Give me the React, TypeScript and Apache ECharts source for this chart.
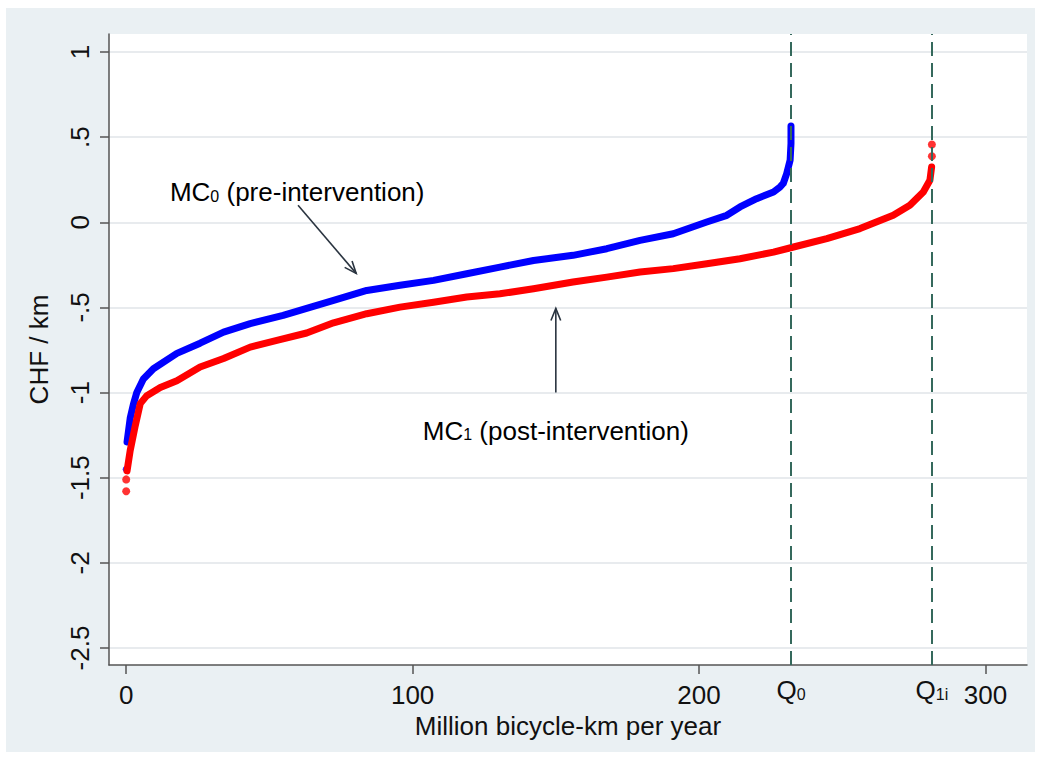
import React, { useEffect, useRef } from "react";
import * as echarts from "echarts";

const xTicks = [0, 100, 200, 300];
const yTicks = [-2.5, -2, -1.5, -1, -0.5, 0, 0.5, 1];

const mc0Points: number[][] = [
  [0.3, -1.29], [1.4, -1.15], [2.5, -1.07], [3.7, -1.0], [6, -0.92], [9.5, -0.86],
  [17.7, -0.77], [25.8, -0.71], [34, -0.645], [43.3, -0.595], [54.8, -0.547],
  [63, -0.506], [72.4, -0.459], [84, -0.4], [95.6, -0.37], [107.3, -0.341],
  [118.9, -0.302], [130.5, -0.263], [142.2, -0.224], [156, -0.194], [167.8, -0.155],
  [179.4, -0.106], [191, -0.067], [202.7, 0.002], [209.7, 0.041], [214.3, 0.09],
  [220.1, 0.139], [226, 0.178], [228.3, 0.208], [229.4, 0.228], [230.6, 0.286],
  [231.8, 0.365], [232.1, 0.463], [232.1, 0.565],
];
const mc0Isolated: number[][] = [[0, -1.45]];

const mc1Points: number[][] = [
  [0.3, -1.46], [1.4, -1.34], [3.1, -1.2], [4.9, -1.065], [7.2, -1.018], [11.9, -0.97],
  [17.7, -0.93], [25.8, -0.85], [34, -0.8], [43.3, -0.733], [52.6, -0.694],
  [63, -0.65], [72.4, -0.59], [84, -0.537], [95.6, -0.498], [107.3, -0.469],
  [118.9, -0.439], [130.5, -0.42], [142.2, -0.39], [156, -0.351], [167.8, -0.322],
  [179.4, -0.292], [191, -0.272], [202.7, -0.243], [214.3, -0.214], [226, -0.175],
  [233, -0.145], [244.6, -0.096], [256.2, -0.037], [267.8, 0.041], [273.6, 0.1],
  [278.3, 0.178], [280.6, 0.247], [281.2, 0.325],
];
const mc1Isolated: number[][] = [[0, -1.58], [0, -1.51], [281.3, 0.388], [281.3, 0.457]];

const q0 = 232.1;
const q1i = 281.3;

const xName = "Million bicycle-km per year";
const yName = "CHF / km";

const mc0Label = [59.7, 0.19];
const mc0ArrowFrom = [60, 0.1];
const mc0ArrowTo = [80.3, -0.3];
const mc1Label = [150, -1.21];
const mc1ArrowFrom = [150, -1.0];
const mc1ArrowTo = [150, -0.506];

const FONT = "'Liberation Sans', Arial, sans-serif";
const FS = 26;
const TXT = "#111111";
const AX = "#555555";

function fmtY(v: number): string {
  if (v === 0) return "0";
  return String(v).replace(/^(-?)0\./, "$1.");
}

const rich = {
  a: { fontSize: FS, fontFamily: FONT, color: TXT, lineHeight: 31, verticalAlign: "bottom" },
  s: { fontSize: 16, fontFamily: FONT, color: TXT, lineHeight: 31, verticalAlign: "bottom", padding: [0, 0, 1, 0] },
};

export default function App() {
  const ref = useRef<HTMLDivElement>(null);
  useEffect(() => {
    if (!ref.current) return;
    const chart = echarts.init(ref.current, null, { renderer: "svg" });
    const option: any = {
      animation: false,
      backgroundColor: "transparent",
      grid: { left: 109, right: 14, top: 34, bottom: 95, show: true, backgroundColor: "#ffffff", borderWidth: 0 },
      xAxis: {
        type: "value",
        min: -6,
        max: 314.5,
        name: xName,
        nameLocation: "middle",
        nameGap: 42,
        nameTextStyle: { fontSize: FS, fontFamily: FONT, color: TXT },
        axisLine: { show: true, onZero: false, lineStyle: { color: AX, width: 1.5 } },
        axisTick: { show: true, customValues: xTicks, length: 9, lineStyle: { color: AX, width: 1.5 } },
        axisLabel: { customValues: xTicks, margin: 17, fontSize: FS, fontFamily: FONT, color: TXT },
        splitLine: { show: false },
      },
      yAxis: {
        type: "value",
        min: -2.6,
        max: 1.106,
        name: yName,
        nameLocation: "middle",
        nameGap: 57,
        nameTextStyle: { fontSize: FS, fontFamily: FONT, color: TXT },
        axisLine: { show: true, onZero: false, lineStyle: { color: AX, width: 1.5 } },
        axisTick: { show: true, customValues: yTicks, length: 9, lineStyle: { color: AX, width: 1.5 } },
        axisLabel: { customValues: yTicks, rotate: 90, margin: 16, fontSize: FS, fontFamily: FONT, color: TXT, formatter: (v: number) => fmtY(v) },
        splitLine: { show: true, lineStyle: { color: "#e8ebee", width: 2 } },
      },
      series: [
        {
          type: "line",
          data: mc0Points,
          showSymbol: false,
          symbol: "none",
          lineStyle: { color: "#0000ff", width: 7, cap: "round", join: "round" },
          z: 3,
          markLine: {
            silent: true,
            symbol: ["none", "none"],
            lineStyle: { type: [14, 7], color: "#35695c", width: 2 },
            label: {
              show: true,
              position: "start",
              distance: 7,
              rich,
            },
            data: [
              { xAxis: q0, label: { formatter: "{a|Q}{s|0}" } },
              { xAxis: q1i, label: { formatter: "{a|Q}{s|1i}" } },
            ],
          },
        },
        {
          type: "scatter",
          data: mc0Isolated,
          symbol: "circle",
          symbolSize: 7,
          itemStyle: { color: "#0000ff" },
          z: 3,
        },
        {
          type: "line",
          data: mc1Points,
          showSymbol: false,
          symbol: "none",
          lineStyle: { color: "#ff0000", width: 7, cap: "round", join: "round" },
          z: 4,
        },
        {
          type: "scatter",
          data: mc1Isolated,
          symbol: "circle",
          symbolSize: 8,
          itemStyle: { color: "#ff0000" },
          z: 4,
        },
      ],
    };
    chart.setOption(option);

    const px = (p: number[]) => chart.convertToPixel({ gridIndex: 0 }, p) as number[];
    const arrow = (from: number[], to: number[]) => {
      const a = px(from);
      const b = px(to);
      const ang = Math.atan2(b[1] - a[1], b[0] - a[0]);
      const L = 13;
      const w = (22 * Math.PI) / 180;
      const l1 = [b[0] - L * Math.cos(ang - w), b[1] - L * Math.sin(ang - w)];
      const l2 = [b[0] - L * Math.cos(ang + w), b[1] - L * Math.sin(ang + w)];
      return [
        { type: "line", shape: { x1: a[0], y1: a[1], x2: b[0], y2: b[1] }, style: { stroke: "#2a3440", lineWidth: 1.6 }, z: 10 },
        { type: "polyline", shape: { points: [l1, b, l2] }, style: { stroke: "#2a3440", lineWidth: 1.6, fill: null }, z: 10 },
      ];
    };
    const l0 = px(mc0Label);
    const l1 = px(mc1Label);
    chart.setOption({
      graphic: [
        ...arrow(mc0ArrowFrom, mc0ArrowTo),
        ...arrow(mc1ArrowFrom, mc1ArrowTo),
        {
          type: "text",
          x: l0[0],
          y: l0[1],
          z: 10,
          style: { text: "{a|MC}{s|0}{a| (pre-intervention)}", rich, align: "center", verticalAlign: "middle" },
        },
        {
          type: "text",
          x: l1[0],
          y: l1[1],
          z: 10,
          style: { text: "{a|MC}{s|1}{a| (post-intervention)}", rich, align: "center", verticalAlign: "middle" },
        },
      ],
    });
    return () => chart.dispose();
  }, []);

  return (
    <div style={{ position: "fixed", left: 0, top: 0, width: 1041, height: 760, background: "#ffffff" }}>
      <div style={{ position: "absolute", left: 6, top: 8, width: 1029, height: 744, background: "#eaf0f3" }} />
      <div ref={ref} style={{ position: "absolute", left: 0, top: 0, width: 1041, height: 760 }} />
    </div>
  );
}
